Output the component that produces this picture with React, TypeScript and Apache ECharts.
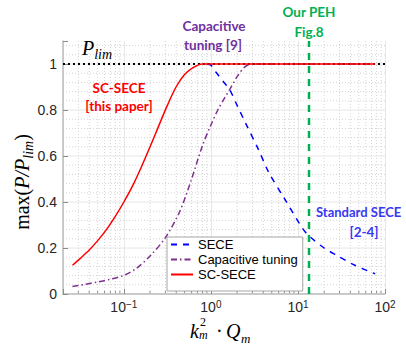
import React, { useEffect, useRef } from 'react';
import * as echarts from 'echarts';

// ---- data ----
const seceX = [0.9, 1.0, 1.14, 1.4, 1.65, 2.0, 2.5, 3.5, 4.6, 7, 11.4, 13.8, 20, 27.3, 45, 77];
const seceY = [1.0, 0.995, 0.965, 0.922, 0.887, 0.82, 0.743, 0.63, 0.53, 0.415, 0.283, 0.248, 0.2, 0.17, 0.125, 0.088];

const capX = [0.0257, 0.035, 0.05, 0.07, 0.1, 0.14, 0.2, 0.3, 0.44, 0.6, 0.8, 1.0, 1.2, 1.4, 1.65, 2.0, 2.5, 3.0, 10, 30, 77];
const capY = [0.033, 0.041, 0.052, 0.064, 0.081, 0.112, 0.165, 0.245, 0.36, 0.5, 0.645, 0.735, 0.8, 0.845, 0.89, 0.945, 0.99, 1, 1, 1, 1];

const scX = [0.0257, 0.0316, 0.0398, 0.0501, 0.0631, 0.0794, 0.1, 0.126, 0.158, 0.2, 0.251, 0.316, 0.398, 0.501, 0.631, 0.794, 1, 3, 10, 30, 77];
const scY = [0.125, 0.155, 0.19, 0.232, 0.28, 0.336, 0.4, 0.47, 0.55, 0.64, 0.73, 0.82, 0.9, 0.955, 0.985, 1, 1, 1, 1, 1, 1];

const seriesNames = ['SECE', 'Capacitive tuning', 'SC-SECE'];
const pehX = 13.4;
const plimY = 1;
const xRange = [0.02, 100];
const yRange = [0, 1.1];
const yTicks = [0, 0.2, 0.4, 0.6, 0.8, 1];

const zip = (xs: number[], ys: number[]) => xs.map((x, i) => [x, ys[i]]);

const minorX: number[] = [];
for (let d = -2; d <= 1; d++) {
  for (let k = 2; k <= 9; k++) {
    const v = k * Math.pow(10, d);
    if (v > xRange[0] * 1.0001 && v < xRange[1]) minorX.push(v);
  }
}
const minorY: number[] = [];
for (let i = 1; i <= 27; i++) if (i % 5 !== 0) minorY.push(+(i * 0.04).toFixed(2));

const SANS = 'Liberation Sans, Arial, sans-serif';
const SERIF = 'Liberation Serif, Times New Roman, serif';
const BOLD = 'Lato, sans-serif';

export default function App() {
  const ref = useRef<HTMLDivElement>(null);
  useEffect(() => {
    if (!ref.current) return;
    const chart = echarts.init(ref.current, undefined, { renderer: 'svg' });
    const supFmt = (v: number) => {
      const e = Math.log10(v);
      const r = Math.round(e);
      if (Math.abs(e - r) > 1e-6) return '';
      return `{b|10}{s|${r < 0 ? '\u2212' + -r : r}}`;
    };
    const mathText = (x: number, y: number, text: string, size: number, italic: boolean, lh?: number) => ({
      type: 'text', x, y, z: 10,
      style: {
        text, fill: '#000', font: `${italic ? 'italic ' : ''}${size}px ${SERIF}`, align: 'left', verticalAlign: 'middle',
        ...(lh ? { lineHeight: lh } : {}),
      },
    });
    const boldText = (x: number, y: number, text: string, color: string, align = 'center', size = 13.5) => ({
      type: 'text', x, y, z: 10,
      style: { text, fill: color, font: `bold ${size}px ${BOLD}`, align, verticalAlign: 'middle' },
    });
    const option: any = {
      animation: false,
      grid: { left: 63, right: 21, top: 41, bottom: 51, containLabel: false },
      legend: {
        data: seriesNames,
        orient: 'vertical',
        left: 167,
        top: 237,
        itemWidth: 22,
        itemHeight: 12,
        itemGap: 2,
        padding: [1, 5, 10, 3],
        backgroundColor: '#ffffff',
        borderColor: '#a6a6a6',
        borderWidth: 1,
        borderRadius: 0,
        itemStyle: { opacity: 0 },
        textStyle: { fontSize: 13, fontFamily: SANS, color: '#000' },
      },
      xAxis: {
        type: 'log',
        logBase: 10,
        min: xRange[0],
        max: xRange[1],
        axisLine: { show: true, onZero: false, lineStyle: { color: '#bdbdbd', width: 1.5 } },
        axisTick: { show: true, inside: true, length: 5, lineStyle: { color: '#8c8c8c' } },
        axisLabel: {
          margin: 5,
          formatter: supFmt,
          rich: {
            b: { fontSize: 14, fontFamily: SANS, color: '#262626', lineHeight: 16 },
            s: { fontSize: 10, fontFamily: SANS, color: '#262626', lineHeight: 4, verticalAlign: 'top' },
          },
        },
        splitLine: { show: true, lineStyle: { color: '#e6e6e6', width: 1 } },
      },
      yAxis: {
        type: 'value',
        min: yRange[0],
        max: yRange[1],
        interval: 0.2,
        axisLine: { show: true, lineStyle: { color: '#bdbdbd', width: 1.5 } },
        axisTick: { show: true, inside: true, length: 5, lineStyle: { color: '#8c8c8c' } },
        axisLabel: {
          margin: 6,
          fontSize: 14,
          fontFamily: SANS,
          color: '#262626',
          formatter: (v: number) => (v > 1.05 ? '' : String(+v.toFixed(2))),
        },
        splitLine: { show: false },
      },
      series: [
        {
          type: 'custom',
          name: 'gridX',
          silent: true,
          z: 0,
          data: minorX.map((v) => [v, 0]),
          encode: { x: 0, y: 1 },
          renderItem: (_p: any, api: any) => {
            const x = api.value(0);
            const a = api.coord([x, yRange[0]]);
            const b = api.coord([x, yRange[1]]);
            return {
              type: 'group',
              children: [
                { type: 'line', shape: { x1: a[0], y1: a[1], x2: b[0], y2: b[1] }, style: { stroke: '#d4d4d4', lineWidth: 1, lineDash: [1, 2] } },
                { type: 'line', shape: { x1: a[0], y1: a[1], x2: a[0], y2: a[1] - 3 }, style: { stroke: '#8c8c8c', lineWidth: 1 } },
              ],
            };
          },
        },
        {
          type: 'custom',
          name: 'gridY',
          silent: true,
          z: 0,
          data: [...yTicks.map((v) => [xRange[0], v, 1]), ...minorY.map((v) => [xRange[0], v, 0])],
          encode: { x: 0, y: 1 },
          renderItem: (_p: any, api: any) => {
            const y = api.value(1);
            const major = api.value(2) === 1;
            const a = api.coord([xRange[0], y]);
            const b = api.coord([xRange[1], y]);
            return {
              type: 'line',
              shape: { x1: a[0], y1: a[1], x2: b[0], y2: b[1] },
              style: major
                ? { stroke: '#e6e6e6', lineWidth: 1 }
                : { stroke: '#d4d4d4', lineWidth: 1, lineDash: [1, 2] },
            };
          },
        },
        {
          type: 'line',
          name: 'Plim',
          silent: true,
          z: 1,
          symbol: 'none',
          data: [[xRange[0], plimY], [xRange[1], plimY]],
          lineStyle: { color: '#000', width: 2, type: [2, 3] },
        },
        {
          type: 'line',
          name: 'PEH',
          silent: true,
          z: 1,
          symbol: 'none',
          data: [[pehX, yRange[0]], [pehX, yRange[1]]],
          lineStyle: { color: '#00b050', width: 2.5, type: [7, 6] },
        },
        {
          type: 'line',
          name: seriesNames[0],
          z: 3,
          symbol: 'none',
          smooth: 0.3,
          data: zip(seceX, seceY),
          itemStyle: { color: '#0000ff' },
          lineStyle: { color: '#0000ff', width: 1.5, type: [6, 6] },
        },
        {
          type: 'line',
          name: seriesNames[1],
          z: 3,
          symbol: 'none',
          smooth: 0.3,
          data: zip(capX, capY),
          itemStyle: { color: '#7e2f8e' },
          lineStyle: { color: '#7e2f8e', width: 1.5, type: [6, 3, 1.5, 3] },
        },
        {
          type: 'line',
          name: seriesNames[2],
          z: 4,
          symbol: 'none',
          smooth: 0.3,
          data: zip(scX, scY),
          itemStyle: { color: '#ff0000' },
          lineStyle: { color: '#ff0000', width: 1.5 },
        },
      ],
      graphic: [
        {
          type: 'text', x: 82, y: 48, z: 10,
          style: {
            text: '{i|P}{s|lim}', align: 'left', verticalAlign: 'middle',
            rich: {
              i: { fontSize: 20, fontFamily: SERIF, fontStyle: 'italic', fill: '#000', lineHeight: 26 },
              s: { fontSize: 14, fontFamily: SERIF, fontStyle: 'italic', fill: '#000', lineHeight: 14, verticalAlign: 'bottom' },
            },
          },
        },
        boldText(119, 88, 'SC-SECE', '#ff0000'),
        boldText(119, 106, '[this paper]', '#ff0000'),
        boldText(214, 26, 'Capacitive', '#7030a0'),
        boldText(213, 45, 'tuning [9]', '#7030a0'),
        boldText(309, 12, 'Our PEH', '#00b050'),
        boldText(309, 32, 'Fig.8', '#00b050'),
        boldText(316, 212, 'Standard SECE', '#3838f5', 'left', 13),
        boldText(364, 232, '[2-4]', '#3838f5'),
        {
          type: 'text', x: 22, y: 182, rotation: Math.PI / 2, z: 10,
          style: {
            text: '{u|max(}{i|P/P}{s|lim}{u|)}', align: 'center', verticalAlign: 'middle',
            rich: {
              u: { fontSize: 20, fontFamily: SERIF, fill: '#000', lineHeight: 26 },
              i: { fontSize: 20, fontFamily: SERIF, fontStyle: 'italic', fill: '#000', lineHeight: 26 },
              s: { fontSize: 14, fontFamily: SERIF, fontStyle: 'italic', fill: '#000', lineHeight: 14, verticalAlign: 'bottom' },
            },
          },
        },
        mathText(190, 331, 'k', 20, true),
        mathText(200, 322, '2', 12, false, 8),
        mathText(199, 335, 'm', 12, true, 8),
        mathText(216, 331, '\u00b7', 20, false),
        mathText(226, 330.5, 'Q', 20, true),
        mathText(241, 338, 'm', 13, true, 10),
      ],
    };
    chart.setOption(option);
    return () => chart.dispose();
  }, []);
  return <div ref={ref} style={{ position: 'fixed', left: 0, top: 0, width: 406, height: 345, background: '#fff' }} />;
}
